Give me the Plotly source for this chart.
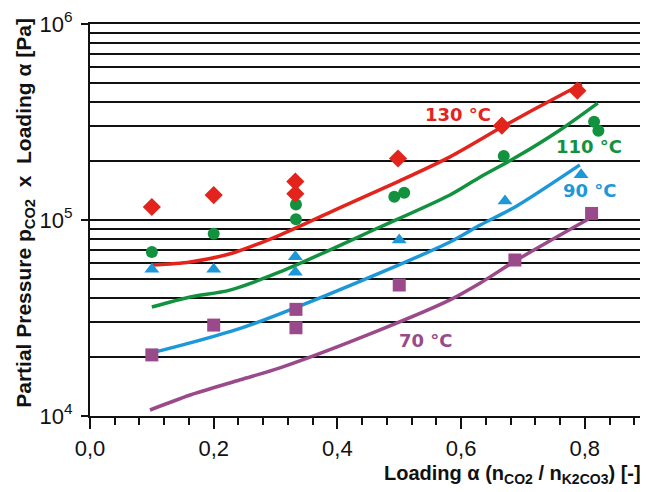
import math
import plotly.graph_objects as go

# ---- data ----
x_130 = [0.1, 0.2, 0.332, 0.332, 0.498, 0.666, 0.788]
y_130 = [1.165e5, 1.34e5, 1.57e5, 1.36e5, 2.06e5, 3.03e5, 4.57e5]
x_110 = [0.1, 0.2, 0.333, 0.333, 0.492, 0.508, 0.669, 0.815, 0.822]
y_110 = [6.87e4, 8.5e4, 1.2e5, 1.01e5, 1.315e5, 1.378e5, 2.12e5, 3.17e5, 2.85e5]
x_90 = [0.1, 0.2, 0.332, 0.332, 0.5, 0.671, 0.794]
y_90 = [5.6e4, 5.6e4, 6.5e4, 5.41e4, 7.9e4, 1.25e5, 1.70e5]
x_70 = [0.1, 0.2, 0.333, 0.333, 0.5, 0.687, 0.811]
y_70 = [2.05e4, 2.91e4, 3.5e4, 2.82e4, 4.66e4, 6.25e4, 1.08e5]

mx_130 = [0.1, 0.162, 0.231, 0.307, 0.40, 0.5, 0.582, 0.666, 0.716, 0.795]
my_130 = [5.89e4, 6.11e4, 6.79e4, 8.38e4, 1.14e5, 1.58e5, 2.10e5, 2.98e5, 3.64e5, 4.94e5]
mx_110 = [0.1, 0.162, 0.226, 0.307, 0.469, 0.582, 0.631, 0.690, 0.760, 0.821]
my_110 = [3.60e4, 4.05e4, 4.39e4, 5.43e4, 9.21e4, 1.342e5, 1.658e5, 2.10e5, 2.88e5, 3.95e5]
mx_90 = [0.1, 0.162, 0.243, 0.307, 0.469, 0.582, 0.631, 0.690, 0.792]
my_90 = [2.10e4, 2.36e4, 2.80e4, 3.32e4, 5.37e4, 7.72e4, 9.43e4, 1.179e5, 1.91e5]
mx_70 = [0.097, 0.162, 0.243, 0.307, 0.469, 0.582, 0.631, 0.690, 0.806]
my_70 = [1.073e4, 1.28e4, 1.53e4, 1.76e4, 2.75e4, 3.91e4, 4.77e4, 6.25e4, 1.012e5]

temp_labels = ["130 °C", "110 °C", "90 °C", "70 °C"]
label_x = [0.595, 0.807, 0.809, 0.543]
label_y = [3.44e5, 2.36e5, 1.42e5, 2.44e4]

x_tickvals = [0.0, 0.2, 0.4, 0.6, 0.8]
x_ticktext = ["0,0", "0,2", "0,4", "0,6", "0,8"]
y_tickvals = [1e4, 1e5, 1e6]
y_ticktext = ["10<sup>4</sup>", "10<sup>5</sup>", "10<sup>6</sup>"]
y_minor_vals = [m * 10**e for e in (4, 5) for m in range(2, 10)]

RED = "#e2241d"
GREEN = "#12923f"
BLUE = "#1c98d8"
PURPLE = "#9a4a8b"
FONT = "Liberation Sans, Arial, sans-serif"
LABEL_FONT = "DejaVu Sans, Liberation Sans, sans-serif"

fig = go.Figure()

for mx, my, c in [(mx_70, my_70, PURPLE), (mx_90, my_90, BLUE),
                  (mx_110, my_110, GREEN), (mx_130, my_130, RED)]:
    fig.add_trace(go.Scatter(x=mx, y=my, mode="lines",
                             line=dict(color=c, width=3.5, shape="spline", smoothing=0.8),
                             showlegend=False, hoverinfo="skip"))

fig.add_trace(go.Scatter(x=x_70, y=y_70, mode="markers",
                         marker=dict(symbol="square", size=13, color=PURPLE), showlegend=False))
fig.add_trace(go.Scatter(x=x_90, y=y_90, mode="markers",
                         marker=dict(symbol="triangle-up", size=13, color=BLUE), showlegend=False))
fig.add_trace(go.Scatter(x=x_110, y=y_110, mode="markers",
                         marker=dict(symbol="circle", size=12, color=GREEN), showlegend=False))
fig.add_trace(go.Scatter(x=x_130, y=y_130, mode="markers",
                         marker=dict(symbol="diamond", size=14, color=RED), showlegend=False))

for t, lx, ly, c in zip(temp_labels, label_x, label_y, [RED, GREEN, BLUE, PURPLE]):
    # annotations on a log axis take log10 positions
    fig.add_annotation(x=lx, y=math.log10(ly), yref="y", xref="x", text=f"<b>{t}</b>", showarrow=False,
                       font=dict(family=LABEL_FONT, size=18, color=c))

fig.add_annotation(xref="paper", yref="paper", x=1.0018, y=-0.148, xanchor="right", yanchor="middle",
                   text="<b>Loading α (n<sub>CO2</sub> / n<sub>K2CO3</sub>) [-]</b>", showarrow=False,
                   font=dict(family=FONT, size=20, color="#111"))
fig.add_annotation(xref="paper", yref="paper", x=-0.118, y=0.518, xanchor="center", yanchor="middle",
                   textangle=-90,
                   text="<b>Partial Pressure p<sub>CO2</sub>  x  Loading α [Pa]</b>", showarrow=False,
                   font=dict(family=FONT, size=21, color="#111"))

# the page adds an 8 px body margin, so the figure is 8 px smaller than the window
fig.update_layout(
    width=640, height=484,
    margin=dict(l=82, r=6, t=16, b=76),
    paper_bgcolor="white", plot_bgcolor="white",
    font=dict(family=FONT, color="#111"),
    xaxis=dict(range=[0, 0.8925], tickvals=x_tickvals, ticktext=x_ticktext, automargin=False,
               ticks="outside", ticklen=11, tickwidth=2, tickcolor="#111", ticklabelstandoff=1,
               showline=True, linewidth=2, linecolor="#111", mirror=True,
               showgrid=False, zeroline=False, tickfont=dict(size=22, color="#111"),
               minor=dict(tick0=0, dtick=0.04, ticks="outside", ticklen=7, tickwidth=2, tickcolor="#111",
                          showgrid=False)),
    yaxis=dict(type="log", range=[4, 6], tickvals=y_tickvals, ticktext=y_ticktext, automargin=False,
               ticks="outside", ticklen=7, tickwidth=2, tickcolor="#111", ticklabelstandoff=4,
               ticklabeloverflow="allow",
               showline=True, linewidth=2, linecolor="#111", mirror=True,
               showgrid=True, gridcolor="#111", gridwidth=2, zeroline=False,
               tickfont=dict(size=22, color="#111"),
               minor=dict(tickvals=y_minor_vals, ticks="", showgrid=True, gridcolor="#111", gridwidth=2)),
)

fig.write_html("out.html")
